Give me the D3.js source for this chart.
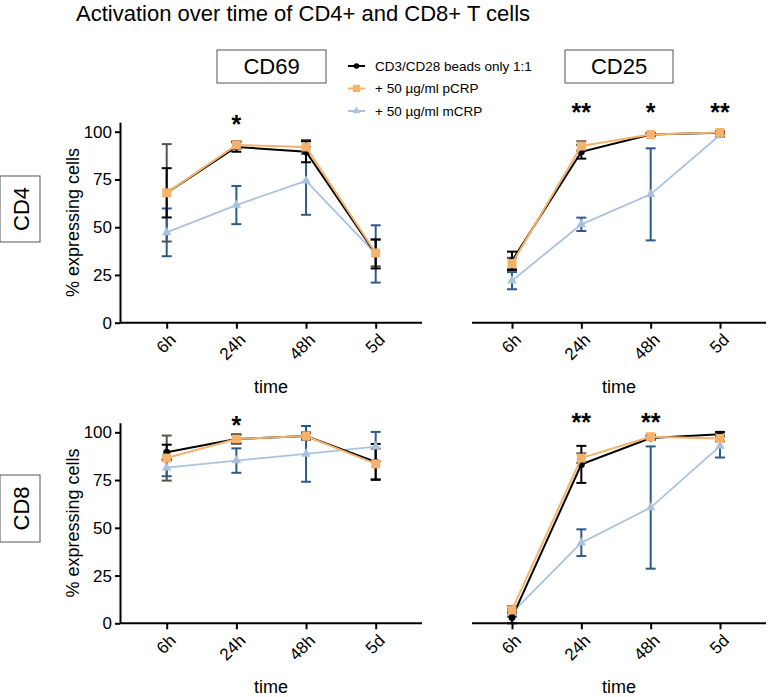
<!DOCTYPE html>
<html>
<head>
<meta charset="utf-8">
<script src="https://cdn.jsdelivr.net/npm/d3@7"></script>
<style>
  body { margin: 0; background: #fff; }
  svg { font-family: "Liberation Sans", Arial, sans-serif; }
</style>
</head>
<body>
<div id="chart"></div>
<script>
const categories = ['6h', '24h', '48h', '5d'];
const yTicks = [0, 25, 50, 75, 100];
const seriesNames = ['CD3/CD28 beads only 1:1', '+ 50 µg/ml pCRP', '+ 50 µg/ml mCRP'];

// CD4 / CD69
const cd4cd69Ctrl = [68, 92, 89.5, 36];
const cd4cd69CtrlErr = [12.9, 2.5, 5.5, 7.6];
const cd4cd69P = [68, 93, 92, 36.5];
const cd4cd69PErr = [25.5, 2, 3.6, 7];
const cd4cd69M = [47.3, 61.6, 74.3, 36];
const cd4cd69MErr = [12.5, 10, 17.8, 15];
const cd4cd69Stars = ['', '*', '', ''];

// CD4 / CD25
const cd4cd25Ctrl = [32.4, 89.5, 98.5, 99.5];
const cd4cd25CtrlErr = [4.8, 3.6, 0.8, 0.6];
const cd4cd25P = [31, 92.5, 98.5, 99.6];
const cd4cd25PErr = [3, 2.5, 0.8, 0.6];
const cd4cd25M = [22, 51.5, 67.2, 98.3];
const cd4cd25MErr = [4.5, 3.5, 24.1, 1];
const cd4cd25Stars = ['', '**', '*', '**'];

// CD8 / CD69
const cd8cd69Ctrl = [89.5, 96.5, 98, 84.5];
const cd8cd69CtrlErr = [4, 2.3, 1.5, 9.4];
const cd8cd69P = [86.5, 96.5, 98, 83.5];
const cd8cd69PErr = [11.8, 2.3, 2, 8];
const cd8cd69M = [81.5, 85.2, 88.7, 92.5];
const cd8cd69MErr = [4.5, 6.4, 14.6, 7.7];
const cd8cd69Stars = ['', '*', '', ''];

// CD8 / CD25
const cd8cd25Ctrl = [3, 83.2, 97, 99];
const cd8cd25CtrlErr = [3, 9.7, 1, 1.2];
const cd8cd25P = [7, 86.5, 97.7, 96.8];
const cd8cd25PErr = [2, 2.5, 1, 1.5];
const cd8cd25M = [5.5, 42.2, 60.6, 92.8];
const cd8cd25MErr = [2, 7, 32, 6];
const cd8cd25Stars = ['', '**', '**', ''];

const W = 768, H = 697;
const lineCol = ['#000000', '#f4b26c', '#a9c3df'];
const errCol = ['#000000', '#5c5148', '#2f5a88'];

const svg = d3.select('#chart').append('svg')
  .attr('width', W).attr('height', H);

svg.append('text')
  .attr('x', 76).attr('y', 21)
  .style('font-size', '22px')
  .text('Activation over time of CD4+ and CD8+ T cells');

// header boxes
function boxLabel(x, y, w, h, label, rotate) {
  svg.append('rect')
    .attr('x', x).attr('y', y).attr('width', w).attr('height', h)
    .attr('fill', 'none').attr('stroke', '#555').attr('stroke-width', 1);
  const t = svg.append('text')
    .attr('text-anchor', 'middle')
    .attr('dominant-baseline', 'central')
    .style('font-size', '22px')
    .text(label);
  if (rotate) {
    t.attr('transform', `translate(${x + w / 2 + 1},${y + h / 2}) rotate(-90)`);
  } else {
    t.attr('x', x + w / 2).attr('y', y + h / 2);
  }
}
boxLabel(217, 50, 109, 33, 'CD69');
boxLabel(565, 50, 108, 33, 'CD25');
boxLabel(0, 176, 40, 66, 'CD4', true);
boxLabel(0, 475, 40, 67, 'CD8', true);

function drawMarker(g, i, x, y, s) {
  s = s || 1;
  if (i === 0) {
    g.append('circle').attr('cx', x).attr('cy', y).attr('r', 3.5 * s).attr('fill', lineCol[0]);
  } else if (i === 1) {
    g.append('rect').attr('x', x - 4.5 * s).attr('y', y - 4.5 * s)
      .attr('width', 9 * s).attr('height', 9 * s).attr('fill', lineCol[1]);
  } else {
    g.append('path').attr('transform', `translate(${x},${y})`)
      .attr('d', d3.symbol(d3.symbolTriangle, 40 * s * s)()).attr('fill', lineCol[2]);
  }
}

// legend
const legend = svg.append('g').attr('transform', 'translate(348,66)');
seriesNames.forEach((name, i) => {
  const g = legend.append('g').attr('transform', `translate(0, ${i * 22.5})`);
  g.append('line').attr('x1', 0).attr('x2', 17).attr('y1', 0).attr('y2', 0)
    .attr('stroke', lineCol[i]).attr('stroke-width', 2);
  drawMarker(g, i, 8.5, 0, 0.8);
  g.append('text').attr('x', 27).attr('y', 0).attr('dy', '0.35em')
    .style('font-size', '13.5px').text(name);
});

const panels = [
  { left: 120, right: 422, x0: 166.7, x1: 375.7, y0: 322.7, yAxis: true,
    series: [[cd4cd69Ctrl, cd4cd69CtrlErr], [cd4cd69P, cd4cd69PErr], [cd4cd69M, cd4cd69MErr]],
    stars: cd4cd69Stars, starY: 133 },
  { left: 472, right: 766, x0: 512, x1: 720, y0: 322.7, yAxis: false,
    series: [[cd4cd25Ctrl, cd4cd25CtrlErr], [cd4cd25P, cd4cd25PErr], [cd4cd25M, cd4cd25MErr]],
    stars: cd4cd25Stars, starY: 121 },
  { left: 120, right: 422, x0: 166.7, x1: 375.7, y0: 623.3, yAxis: true,
    series: [[cd8cd69Ctrl, cd8cd69CtrlErr], [cd8cd69P, cd8cd69PErr], [cd8cd69M, cd8cd69MErr]],
    stars: cd8cd69Stars, starY: 434 },
  { left: 472, right: 766, x0: 512, x1: 720, y0: 623.3, yAxis: false,
    series: [[cd8cd25Ctrl, cd8cd25CtrlErr], [cd8cd25P, cd8cd25PErr], [cd8cd25M, cd8cd25MErr]],
    stars: cd8cd25Stars, starY: 431 }
];

panels.forEach(p => {
  const g = svg.append('g');
  const x = d3.scalePoint().domain(categories).range([p.x0, p.x1]);
  const y = d3.scaleLinear().domain([0, 105]).range([p.y0, p.y0 - 105 * 1.91]);

  // x axis: ticks from d3, labels rotated by hand
  const xAxis = g.append('g').attr('transform', `translate(0,${p.y0})`)
    .call(d3.axisBottom(x).tickSize(6).tickSizeOuter(0).tickFormat(''));
  xAxis.select('.domain').remove();
  xAxis.selectAll('.tick line').attr('stroke', '#000').attr('stroke-width', 2);
  categories.forEach(c => {
    g.append('text')
      .attr('transform', `translate(${x(c) + 6},${p.y0 + 14}) rotate(-45)`)
      .attr('text-anchor', 'end')
      .attr('dy', '0.35em')
      .style('font-size', '17px')
      .text(c);
  });
  g.append('line').attr('x1', p.left).attr('x2', p.right)
    .attr('y1', p.y0).attr('y2', p.y0)
    .attr('stroke', '#000').attr('stroke-width', 2);

  g.append('text')
    .attr('x', (p.left + p.right) / 2).attr('y', p.y0 + 70)
    .attr('text-anchor', 'middle').style('font-size', '18px').text('time');

  if (p.yAxis) {
    const yAxis = g.append('g').attr('transform', `translate(${p.left},0)`)
      .call(d3.axisLeft(y).tickValues(yTicks).tickSize(5).tickPadding(3).tickSizeOuter(0));
    yAxis.select('.domain').attr('stroke-width', 2);
    yAxis.selectAll('.tick line').attr('stroke-width', 2);
    yAxis.selectAll('.tick text').style('font-size', '17px')
      .style('font-family', 'Liberation Sans, Arial, sans-serif');
    g.append('text')
      .attr('transform', `translate(79,${y(52.5)}) rotate(-90)`)
      .attr('text-anchor', 'middle').style('font-size', '18px')
      .text('% expressing cells');
  }

  // error bars: pCRP, mCRP, control
  [1, 2, 0].forEach(i => {
    const [vals, errs] = p.series[i];
    const eb = g.append('g').attr('stroke', errCol[i]).attr('stroke-width', 2);
    categories.forEach((c, k) => {
      const cx = x(c), hi = y(vals[k] + errs[k]), lo = y(Math.max(0, vals[k] - errs[k]));
      eb.append('line').attr('x1', cx).attr('x2', cx).attr('y1', hi).attr('y2', lo);
      eb.append('line').attr('x1', cx - 5).attr('x2', cx + 5).attr('y1', hi).attr('y2', hi);
      eb.append('line').attr('x1', cx - 5).attr('x2', cx + 5).attr('y1', lo).attr('y2', lo);
    });
  });

  // lines and markers: mCRP, control, pCRP
  [2, 0, 1].forEach(i => {
    const vals = p.series[i][0];
    const line = d3.line().x((d, k) => x(categories[k])).y(d => y(d));
    g.append('path').datum(vals).attr('d', line)
      .attr('fill', 'none').attr('stroke', lineCol[i])
      .attr('stroke-width', i === 2 ? 1.8 : 2);
    vals.forEach((v, k) => drawMarker(g, i, x(categories[k]), y(v)));
  });

  // significance stars
  p.stars.forEach((s, k) => {
    if (!s) return;
    g.append('text').attr('x', x(categories[k])).attr('y', p.starY)
      .attr('text-anchor', 'middle').style('font-size', '25px').style('font-weight', 'bold')
      .text(s);
  });
});
</script>
</body>
</html>
